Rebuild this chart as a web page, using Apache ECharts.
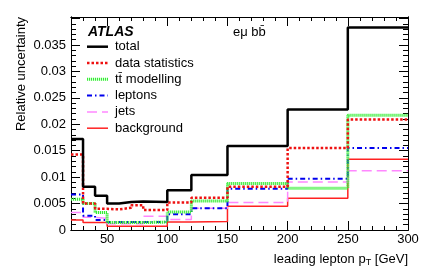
<!DOCTYPE html>
<html><head><meta charset="utf-8">
<script src="https://cdn.jsdelivr.net/npm/echarts@6/dist/echarts.min.js"></script>
<style>html,body{margin:0;padding:0;background:#fff}#c{width:425px;height:277px}</style>
</head><body><div id="c"></div>
<script>
const binEdges = [20,30,40,50,60,70,80,100,120,150,200,250,300];
const totalUnc   = [0.0172,0.0082,0.0065,0.0050,0.0053,0.0054,0.0053,0.0075,0.0104,0.0159,0.0228,0.0383];
const dataStat   = [0.0143,0.0050,0.0040,0.0039,0.0042,0.0047,0.0038,0.0052,0.0061,0.0082,0.0155,0.0209];
const ttModel    = [0.0058,0.0050,0.0033,0.0014,0.0014,0.0014,0.0015,0.0034,0.0055,0.0088,0.0079,0.0217];
const leptons    = [0.0067,0.0027,0.0019,0.0015,0.0015,0.0015,0.0015,0.0030,0.0041,0.0078,0.0097,0.0155];
const jets       = [0.0033,0.0024,0.0022,0.0012,0.0012,0.0012,0.0026,0.0020,0.0041,0.0052,0.0091,0.0112];
const background = [0.0019,0.0014,0.0014,0.0007,0.0007,0.0007,0.0007,0.0015,0.0016,0.0045,0.0060,0.0134];
const seriesNames = ['total','data statistics','tt\u0304 modelling','leptons','jets','background'];
const xMajorTicks = [50,100,150,200,250,300];
const xMinorTicks = [30,40,50,60,70,80,90,100,110,120,130,140,150,160,170,180,190,200,210,220,230,240,250,260,270,280,290];
const yMajorTicks = [0,0.005,0.01,0.015,0.02,0.025,0.03,0.035,0.04];
const yMinorTicks = [];
for (let i = 1; i <= 40; i++) yMinorTicks.push(+(i*0.001).toFixed(3));

function stepData(vals){ return binEdges.map((e,i)=>[e, vals[Math.min(i, vals.length-1)]]); }

const X0 = 20, X1 = 300, Y0 = 0, Y1 = 0.0403;
const FONT = 'Liberation Sans, Arial, Helvetica, sans-serif';

function xAx(pos, ticks, len, labels){
  return {type:'value', min:X0, max:X1, position:pos,
    axisLine:{show:true, onZero:false, lineStyle:{color:'#000', width:1}},
    axisTick:{show:true, inside:true, length:len, customValues:ticks, lineStyle:{color:'#000', width:1}},
    axisLabel:labels ? {show:true, customValues:xMajorTicks, margin:3, color:'#000', fontSize:13, fontFamily:FONT} : {show:false},
    splitLine:{show:false}};
}
function yAx(pos, ticks, len, labels){
  return {type:'value', min:Y0, max:Y1, position:pos,
    axisLine:{show:true, onZero:false, lineStyle:{color:'#000', width:1}},
    axisTick:{show:true, inside:true, length:len, customValues:ticks, lineStyle:{color:'#000', width:1}},
    axisLabel:labels ? {show:true, customValues:yMajorTicks.slice(0,8), margin:5, color:'#000', fontSize:13, fontFamily:FONT} : {show:false},
    splitLine:{show:false}};
}

const styles = [
  {color:'#000000', width:2.5, type:'solid'},
  {color:'#ee1111', width:2.5, type:[2.5,2]},
  {color:'#33ee33', width:3, type:[1.2,0.8]},
  {color:'#0000ee', width:2, type:[5,3,1.5,3]},
  {color:'#ff88ff', width:1.5, type:[10,5]},
  {color:'#ff2222', width:1.5, type:'solid'}
];
const vals = [totalUnc, dataStat, ttModel, leptons, jets, background];

const legendGraphics = [];
seriesNames.forEach((n,i)=>{
  const y = 46.7 + i*16.3;
  const s = styles[i];
  legendGraphics.push({type:'line', shape:{x1:87, y1:y, x2:108, y2:y},
    style:{stroke:s.color, lineWidth:s.width, lineDash: s.type === 'solid' ? null : s.type}, z:20});
  legendGraphics.push({type:'text', x:115, y:y,
    style:{text:n, font:'13px '+FONT, fill:'#000', verticalAlign:'middle'}, z:20});
});

const chart = echarts.init(document.getElementById('c'), null, {renderer:'canvas'});
chart.setOption({
  animation:false,
  backgroundColor:'#fff',
  grid:{left:71, right:17, top:17, bottom:47},
  xAxis:[ xAx('bottom', xMinorTicks, 4, true), xAx('bottom', xMajorTicks, 9, false),
          xAx('top', xMinorTicks, 4, false), xAx('top', xMajorTicks, 9, false) ],
  yAxis:[ yAx('left', yMinorTicks, 5, true), yAx('left', yMajorTicks, 9, false),
          yAx('right', yMinorTicks, 5, false), yAx('right', yMajorTicks, 9, false) ],
  series: seriesNames.map((n,i)=>({
    name:n, type:'line', step:'end', xAxisIndex:0, yAxisIndex:0,
    symbol:'none', data:stepData(vals[i]),
    lineStyle:styles[i], itemStyle:{color:styles[i].color}, z:10-i
  })),
  graphic:[
    {type:'text', left:88, top:25, style:{text:'ATLAS', font:'italic bold 14px '+FONT, fill:'#000'}},
    {type:'text', left:233, top:26, style:{text:'e\u03bc bb\u0304', font:'13px '+FONT, fill:'#000'}},
    {type:'text', x:21, y:74, rotation:Math.PI/2,
      style:{text:'Relative uncertainty', font:'13px '+FONT, fill:'#000', align:'center', verticalAlign:'middle'}},
    {type:'text', x:408, y:259,
      style:{text:'leading lepton p{s|T} [GeV]', font:'13px '+FONT, fill:'#000', align:'right', verticalAlign:'middle',
        rich:{s:{fontSize:9, fontFamily:FONT, padding:[8,0,0,0], verticalAlign:'bottom'}}}}
  ].concat(legendGraphics)
});
</script></body></html>
